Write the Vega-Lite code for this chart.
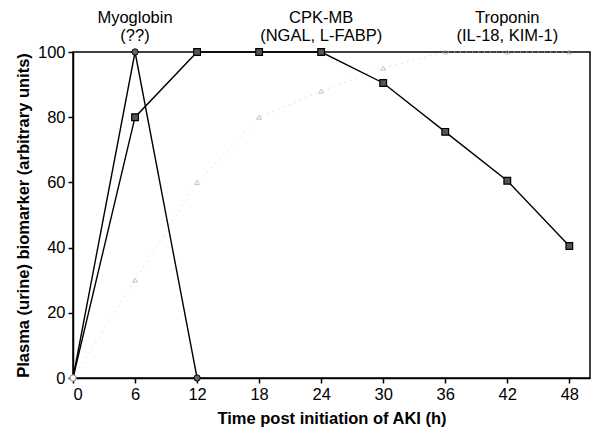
{
  "$schema": "https://vega.github.io/schema/vega-lite/v6.json",
  "width": 517,
  "height": 326,
  "autosize": {"type": "none"},
  "padding": {"left": 73, "top": 52, "right": 14, "bottom": 59},
  "background": "white",
  "config": {
    "view": {"stroke": "black", "strokeWidth": 1.5},
    "font": "Liberation Sans",
    "axis": {"grid": false, "domainColor": "black", "tickColor": "black", "labelColor": "black", "titleColor": "black", "labelFontSize": 16.5, "titleFontSize": 16.5, "labelFont": "Liberation Sans", "titleFont": "Liberation Sans", "titleFontWeight": "bold", "domainWidth": 1.5, "tickWidth": 1.5}
  },
  "datasets": {
    "series": [
      {"series": "Myoglobin", "time": 0, "value": 0},
      {"series": "Myoglobin", "time": 6, "value": 100},
      {"series": "Myoglobin", "time": 12, "value": 0},
      {"series": "CPK-MB", "time": 0, "value": 0},
      {"series": "CPK-MB", "time": 6, "value": 80},
      {"series": "CPK-MB", "time": 12, "value": 100},
      {"series": "CPK-MB", "time": 18, "value": 100},
      {"series": "CPK-MB", "time": 24, "value": 100},
      {"series": "CPK-MB", "time": 30, "value": 90.5},
      {"series": "CPK-MB", "time": 36, "value": 75.5},
      {"series": "CPK-MB", "time": 42, "value": 60.5},
      {"series": "CPK-MB", "time": 48, "value": 40.5},
      {"series": "Troponin", "time": 0, "value": 0},
      {"series": "Troponin", "time": 6, "value": 30},
      {"series": "Troponin", "time": 12, "value": 60},
      {"series": "Troponin", "time": 18, "value": 80},
      {"series": "Troponin", "time": 24, "value": 88},
      {"series": "Troponin", "time": 30, "value": 95},
      {"series": "Troponin", "time": 36, "value": 100},
      {"series": "Troponin", "time": 42, "value": 100},
      {"series": "Troponin", "time": 48, "value": 100}
    ],
    "labels": [
      {"time": 6, "value": 110.4, "text": "Myoglobin"},
      {"time": 6, "value": 104.9, "text": "(??)"},
      {"time": 24, "value": 110.4, "text": "CPK-MB"},
      {"time": 24, "value": 104.9, "text": "(NGAL, L-FABP)"},
      {"time": 42, "value": 110.4, "text": "Troponin"},
      {"time": 42, "value": 104.9, "text": "(IL-18, KIM-1)"}
    ]
  },
  "layer": [
    {
      "data": {"name": "series"},
      "transform": [{"filter": "datum.series === 'Troponin'"}],
      "mark": {"type": "line", "color": "#cccccc", "strokeWidth": 1, "strokeDash": [1, 5]},
      "encoding": {
        "x": {"field": "time", "type": "quantitative", "scale": {"domain": [0, 48]}, "axis": {"values": [0, 6, 12, 18, 24, 30, 36, 42, 48], "title": "Time post initiation of AKI (h)", "tickSize": 5, "labelPadding": 3, "titlePadding": 8}},
        "y": {"field": "value", "type": "quantitative", "scale": {"domain": [0, 100]}, "axis": {"values": [0, 20, 40, 60, 80, 100], "title": "Plasma (urine) biomarker (arbitrary units)", "tickSize": 5, "labelPadding": 3, "titlePadding": 6}}
      }
    },
    {
      "data": {"name": "series"},
      "transform": [{"filter": "datum.series !== 'Troponin'"}],
      "mark": {"type": "line", "color": "black", "strokeWidth": 1.4},
      "encoding": {
        "x": {"field": "time", "type": "quantitative"},
        "y": {"field": "value", "type": "quantitative"},
        "detail": {"field": "series"}
      }
    },
    {
      "data": {"name": "series"},
      "transform": [{"filter": "datum.series === 'Troponin' && datum.time > 0"}],
      "mark": {"type": "point", "shape": "triangle-up", "size": 22, "color": "#999999", "filled": false, "strokeWidth": 0.8},
      "encoding": {
        "x": {"field": "time", "type": "quantitative"},
        "y": {"field": "value", "type": "quantitative"}
      }
    },
    {
      "data": {"name": "series"},
      "transform": [{"filter": "datum.series === 'CPK-MB' && datum.time > 0"}],
      "mark": {"type": "point", "shape": "square", "size": 45, "fill": "#555555", "stroke": "black", "filled": true, "strokeWidth": 1.2, "opacity": 1},
      "encoding": {
        "x": {"field": "time", "type": "quantitative"},
        "y": {"field": "value", "type": "quantitative"}
      }
    },
    {
      "data": {"name": "series"},
      "transform": [{"filter": "datum.series === 'Myoglobin' && datum.time > 0"}],
      "mark": {"type": "point", "shape": "circle", "size": 40, "fill": "#666666", "stroke": "black", "filled": true, "strokeWidth": 1, "opacity": 1},
      "encoding": {
        "x": {"field": "time", "type": "quantitative"},
        "y": {"field": "value", "type": "quantitative"}
      }
    },
    {
      "data": {"name": "series"},
      "transform": [{"filter": "datum.series === 'Myoglobin' && datum.time === 0"}],
      "mark": {"type": "point", "shape": "circle", "size": 40, "fill": "white", "stroke": "#888888", "filled": true, "strokeWidth": 1, "opacity": 1},
      "encoding": {
        "x": {"field": "time", "type": "quantitative"},
        "y": {"field": "value", "type": "quantitative"}
      }
    },
    {
      "data": {"name": "labels"},
      "mark": {"type": "text", "fontSize": 16.5, "font": "Liberation Sans", "color": "black", "clip": false, "baseline": "middle"},
      "encoding": {
        "x": {"field": "time", "type": "quantitative"},
        "y": {"field": "value", "type": "quantitative"},
        "text": {"field": "text"}
      }
    }
  ]
}
